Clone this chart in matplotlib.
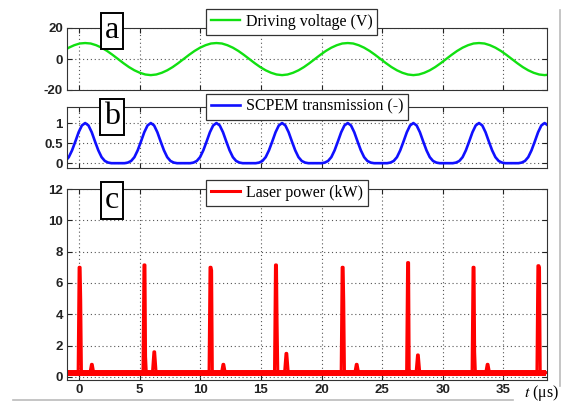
import numpy as np
import matplotlib
matplotlib.use("Agg")
import matplotlib.pyplot as plt
from matplotlib.lines import Line2D

# --- values ---
t_ticks = [0, 5, 10, 15, 20, 25, 30, 35]

# (a) driving voltage: one cycle starting at a crest, 24 samples per period
volt_period = 10.83      # us
volt_first_crest = 0.5   # us
volt_cycle = [10.3, 10.0, 8.9, 7.3, 5.2, 2.7, 0.0, -2.7, -5.2, -7.3, -8.9, -10.0,
              -10.4, -10.0, -8.9, -7.3, -5.2, -2.7, 0.0, 2.7, 5.2, 7.3, 8.9, 10.0]

# (b) SCPEM transmission: one cycle starting at a peak, 20 samples per period
trans_period = 5.415
trans_first_peak = 0.5
trans_cycle = [1.0, 0.94, 0.77, 0.54, 0.32, 0.15, 0.055, 0.015, 0.0, 0.0,
               0.0, 0.0, 0.0, 0.015, 0.055, 0.15, 0.32, 0.54, 0.77, 0.94]

# (c) laser power (kW)
pulse_t = [0.0, 5.35, 10.8, 16.2, 21.7, 27.1, 32.5, 37.85]
pulse_kw = [7.0, 7.15, 7.0, 7.15, 7.0, 7.3, 7.0, 7.1]
shoulder_kw = [4.9, 1.3, 6.8, 3.5, 4.8, 0.5, 1.6, 7.0]
after_t = [1.05, 6.2, 11.9, 17.1, 22.9, 27.95, 33.7]
after_kw = [0.8, 1.6, 0.8, 1.5, 0.8, 1.4, 0.8]
floor_kw = 0.27
trace_start, trace_end = -0.95, 38.5


def tile_cycle(cycle, period, first, t_min, t_max):
    n = len(cycle)
    k0 = int(np.floor((t_min - first) / period)) * n
    k1 = int(np.ceil((t_max - first) / period)) * n + 1
    idx = np.arange(k0, k1)
    return first + period * idx / n, np.asarray(cycle)[idx % n]


def laser_trace():
    pts = [(trace_start, floor_kw), (trace_end, floor_kw)]
    for t, pk, sh in zip(pulse_t, pulse_kw, shoulder_kw):
        pts += [(t - 0.08, floor_kw), (t, pk), (t + 0.08, pk), (t + 0.13, sh),
                (t + 0.19, floor_kw)]
    for t, kw in zip(after_t, after_kw):
        pts += [(t - 0.15, floor_kw), (t - 0.03, kw), (t + 0.03, kw),
                (t + 0.15, floor_kw)]
    pts.sort()
    return [p[0] for p in pts], [p[1] for p in pts]


plt.rcParams["font.family"] = "Liberation Sans"
plt.rcParams["mathtext.fontset"] = "stix"
plt.rcParams["axes.unicode_minus"] = False

fig = plt.figure(figsize=(5.63, 4.04), dpi=100)
L, W = 67 / 563, 480 / 563
ax_a = fig.add_axes([L, 1 - 90 / 404, W, 62 / 404])
ax_b = fig.add_axes([L, 1 - 168 / 404, W, 61 / 404])
ax_c = fig.add_axes([L, 1 - 380 / 404, W, 191 / 404])

xlim = (-1.0, 38.6)
t, v = tile_cycle(volt_cycle, volt_period, volt_first_crest, *xlim)
ax_a.plot(t, v, color="#11e011", lw=1.7, label="Driving voltage (V)")
t, v = tile_cycle(trans_cycle, trans_period, trans_first_peak, *xlim)
ax_b.plot(t, v, color="#1010ff", lw=1.9, label="SCPEM transmission (-)")
ax_c.plot([trace_start, trace_end], [floor_kw, floor_kw], color="#ff0000",
          lw=4.3, solid_capstyle="butt")
lt, lp = laser_trace()
ax_c.plot(lt, lp, color="#ff0000", lw=2.2, label="Laser power (kW)")

ax_a.set_ylim(-20, 20)
ax_a.set_yticks([-20, 0, 20])
ax_b.set_ylim(-0.12, 1.4)
ax_b.set_yticks([0, 0.5, 1])
ax_b.set_yticklabels(["0", "0.5", "1"])
ax_c.set_ylim(-0.2, 12)
ax_c.set_yticks(range(0, 13, 2))

for ax in (ax_a, ax_b, ax_c):
    ax.set_xlim(*xlim)
    ax.set_xticks(t_ticks)
    ax.grid(True, linestyle=(0, (1, 2.5)), color="#555555", lw=0.8)
    ax.tick_params(direction="in", length=3.5, width=0.8, top=True, right=True,
                   labelsize=9.5, pad=3, colors="#222222")
    for lab in ax.get_yticklabels() + ax.get_xticklabels():
        lab.set_fontweight("bold")
    for s in ax.spines.values():
        s.set_color("#333333")
        s.set_linewidth(0.8)
ax_a.tick_params(labelbottom=False)
ax_b.tick_params(labelbottom=False)

leg_tops = {ax_a: 9, ax_b: 94, ax_c: 180}
for ax, top in leg_tops.items():
    lg = ax.legend(loc="upper left", bbox_to_anchor=(206 / 563, 1 - top / 404),
                   bbox_transform=fig.transFigure, fancybox=False, framealpha=1,
                   edgecolor="#333333", handlelength=1.8, handletextpad=0.4,
                   borderpad=0.3, borderaxespad=0,
                   prop={"family": "Liberation Serif", "size": 11.5})
    lg.get_frame().set_linewidth(0.9)

for letter, yc in (("a", 31), ("b", 117), ("c", 200.5)):
    fig.text(112 / 563, 1 - yc / 404, letter, family="Liberation Serif",
             fontsize=23, ha="center", va="center",
             bbox=dict(boxstyle="square,pad=0.12", fc="white", ec="black", lw=1.4))

fig.text(524 / 563, 1 - 393 / 404, "$t$ (\u03bcs)", family="Liberation Serif",
         fontsize=11.5, ha="left", va="center")

# thin grey frame remnants visible along the reference border
fig.add_artist(Line2D([13 / 563, 513 / 563], [1 - 400 / 404] * 2, color="#bbbbbb",
                      lw=1.2, transform=fig.transFigure))
fig.add_artist(Line2D([560 / 563] * 2, [1 - 10 / 404, 1 - 386 / 404], color="#bbbbbb",
                      lw=1.2, transform=fig.transFigure))

fig.savefig("out.png", dpi=100)
